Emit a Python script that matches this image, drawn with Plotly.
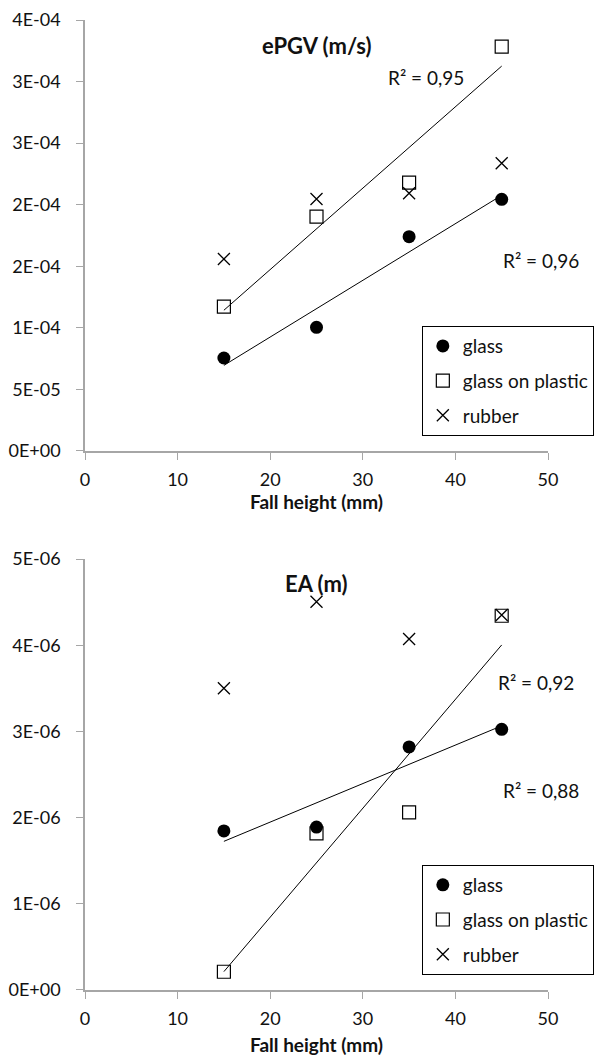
import numpy as np
import plotly.graph_objects as go

# Fall heights (mm)
heights = [15, 25, 35, 45]

# ePGV (m/s)
pgv_glass = [7.55e-5, 1.004e-4, 1.740e-4, 2.044e-4]
pgv_glass_on_plastic = [1.172e-4, 1.903e-4, 2.179e-4, 3.283e-4]
pgv_rubber = [1.559e-4, 2.046e-4, 2.093e-4, 2.336e-4]

# EA (m)
ea_glass = [1.845e-6, 1.89e-6, 2.82e-6, 3.024e-6]
ea_glass_on_plastic = [0.212e-6, 1.818e-6, 2.061e-6, 4.342e-6]
ea_rubber = [3.50e-6, 4.505e-6, 4.072e-6, 4.35e-6]

x_ticks = [0, 10, 20, 30, 40, 50]
pgv_ticks = [0, 5e-5, 1e-4, 1.5e-4, 2e-4, 2.5e-4, 3e-4, 3.5e-4]
pgv_ticktext = ["0E+00", "5E-05", "1E-04", "2E-04", "2E-04", "3E-04", "3E-04", "4E-04"]
ea_ticks = [0, 1e-6, 2e-6, 3e-6, 4e-6, 5e-6]
ea_ticktext = ["0E+00", "1E-06", "2E-06", "3E-06", "4E-06", "5E-06"]

FONT = "Lato, 'Open Sans', sans-serif"
INK = "#111111"
AXIS_GREY = "#a6a6a6"


def linear_fit(x, y):
    x = np.asarray(x, float)
    y = np.asarray(y, float)
    slope, intercept = np.polyfit(x, y, 1)
    pred = slope * x + intercept
    r2 = 1 - np.sum((y - pred) ** 2) / np.sum((y - y.mean()) ** 2)
    return slope, intercept, r2


def r2_text(r2):
    return ("R² = %.2f" % r2).replace(".", ",")


fig = go.Figure()

markers = {
    "glass": dict(symbol="circle", size=13, color="black"),
    "glass on plastic": dict(symbol="square-open", size=13, color="black",
                             line=dict(width=1.2, color="black")),
    "rubber": dict(symbol="x-thin-open", size=12, color="black",
                   line=dict(width=1.3, color="black")),
}

panels = [
    ("x", "y", "legend", {"glass": pgv_glass, "glass on plastic": pgv_glass_on_plastic,
                          "rubber": pgv_rubber}),
    ("x2", "y2", "legend2", {"glass": ea_glass, "glass on plastic": ea_glass_on_plastic,
                             "rubber": ea_rubber}),
]

fits = []
for xa, ya, lg, series in panels:
    panel_fits = {}
    for i, (name, vals) in enumerate(series.items()):
        fig.add_trace(go.Scatter(
            x=heights, y=vals, mode="markers", name=name,
            marker=markers[name], xaxis=xa, yaxis=ya, legend=lg,
            legendgroup=lg + str(i),
        ))
    # linear trendlines for glass and glass on plastic
    for name in ["glass", "glass on plastic"]:
        s, b, r2 = linear_fit(heights, series[name])
        xs = [min(heights), max(heights)]
        fig.add_trace(go.Scatter(
            x=xs, y=[s * v + b for v in xs], mode="lines",
            line=dict(color="black", width=1), showlegend=False,
            xaxis=xa, yaxis=ya, hoverinfo="skip",
        ))
        panel_fits[name] = r2
    fits.append(panel_fits)

tick_font = dict(family=FONT, size=18, color=INK)
label_font = dict(family=FONT, size=19, color=INK)
legend_font = dict(family=FONT, size=19, color=INK)

axis_common = dict(
    automargin=False,
    showgrid=False, zeroline=False, showline=True, linecolor=AXIS_GREY,
    linewidth=1.5, ticks="outside", tickcolor=AXIS_GREY, ticklen=7,
    tickwidth=1.2, tickfont=tick_font,
)

x_title_font = dict(family=FONT, size=19, color=INK)

# legend boxes sit in the lower right, right edge just inside the page
legend_right = 1.099

fig.update_layout(
    width=606, height=1059,
    margin=dict(l=85, r=56, t=20, b=69),
    paper_bgcolor="white", plot_bgcolor="white",
    font=dict(family=FONT, size=18, color=INK),
    xaxis=dict(domain=[0, 1], anchor="y", range=[0, 50], tickvals=x_ticks,
               title=dict(text="<b>Fall height (mm)</b>", font=x_title_font, standoff=4),
               ticklabelstandoff=5, **axis_common),
    yaxis=dict(domain=[0.5557, 1], anchor="x", range=[0, 3.5e-4], tickvals=pgv_ticks,
               ticktext=pgv_ticktext, ticklabelstandoff=12, **axis_common),
    xaxis2=dict(domain=[0, 1], anchor="y2", range=[0, 50], tickvals=x_ticks,
                title=dict(text="<b>Fall height (mm)</b>", font=x_title_font, standoff=10),
                ticklabelstandoff=5, **axis_common),
    yaxis2=dict(domain=[0, 0.4443], anchor="x2", range=[0, 5e-6], tickvals=ea_ticks,
                ticktext=ea_ticktext, ticklabelstandoff=12, **axis_common),
    legend=dict(x=legend_right, y=0.6845, xanchor="right", yanchor="top",
                bordercolor="black", borderwidth=1, bgcolor="white",
                font=legend_font, tracegroupgap=7, itemclick=False),
    legend2=dict(x=legend_right, y=0.1289, xanchor="right", yanchor="top",
                 bordercolor="black", borderwidth=1, bgcolor="white",
                 font=legend_font, tracegroupgap=7, itemclick=False),
    showlegend=True,
)

title_font = dict(family=FONT, size=22, color=INK)
annotations = [
    dict(text="<b>ePGV (m/s)</b>", xref="x domain", yref="y domain", x=0.5, y=0.977,
         showarrow=False, font=title_font),
    dict(text="<b>EA (m)</b>", xref="x2 domain", yref="y2 domain", x=0.5, y=0.979,
         showarrow=False, font=title_font),
    dict(text=r2_text(fits[0]["glass on plastic"]), xref="x", yref="y", x=36.8, y=3.03e-4,
         showarrow=False, font=label_font),
    dict(text=r2_text(fits[0]["glass"]), xref="x", yref="y", x=49.2, y=1.55e-4,
         showarrow=False, font=label_font),
    dict(text=r2_text(fits[1]["glass on plastic"]), xref="x2", yref="y2", x=48.7, y=3.57e-6,
         showarrow=False, font=label_font),
    dict(text=r2_text(fits[1]["glass"]), xref="x2", yref="y2", x=49.2, y=2.31e-6,
         showarrow=False, font=label_font),
]
fig.update_layout(annotations=annotations)

fig.write_html("out.html")
